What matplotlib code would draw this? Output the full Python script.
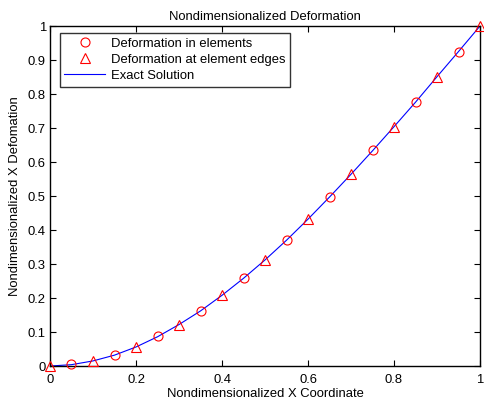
import matplotlib
matplotlib.use("Agg")
import matplotlib.pyplot as plt

plt.rcParams['font.family'] = ['Liberation Sans', 'DejaVu Sans']

# Deformation sampled at element centres
x_elem = [0.05, 0.15, 0.25, 0.35, 0.45, 0.55, 0.65, 0.75, 0.85, 0.95]
u_elem = [0.007, 0.032, 0.087, 0.163, 0.259, 0.371, 0.497, 0.634, 0.776, 0.924]

# Deformation at element edges (nodes)
x_edge = [0.0, 0.1, 0.2, 0.3, 0.4, 0.5, 0.6, 0.7, 0.8, 0.9, 1.0]
u_edge = [0.0, 0.015, 0.056, 0.122, 0.208, 0.312, 0.432, 0.564, 0.704, 0.851, 1.0]

# Exact solution
x_exact = [0.0, 0.05, 0.1, 0.15, 0.2, 0.25, 0.3, 0.35, 0.4, 0.45, 0.5,
           0.55, 0.6, 0.65, 0.7, 0.75, 0.8, 0.85, 0.9, 0.95, 1.0]
u_exact = [0.0, 0.004, 0.015, 0.032, 0.056, 0.086, 0.122, 0.162, 0.208, 0.258, 0.312,
           0.370, 0.432, 0.497, 0.564, 0.633, 0.704, 0.776, 0.851, 0.925, 1.0]

x_ticks = [0, 0.2, 0.4, 0.6, 0.8, 1]
x_ticklabels = ['0', '0.2', '0.4', '0.6', '0.8', '1']
y_ticks = [0, 0.1, 0.2, 0.3, 0.4, 0.5, 0.6, 0.7, 0.8, 0.9, 1]
y_ticklabels = ['0', '0.1', '0.2', '0.3', '0.4', '0.5', '0.6', '0.7', '0.8', '0.9', '1']

fs = 9.4

fig = plt.figure(figsize=(4.84, 4.04), dpi=100)
ax = fig.add_axes([0.1033, 0.094, 0.8885, 0.8416])

ax.plot(x_elem, u_elem, linestyle='none', marker='o', markersize=6.5,
        markerfacecolor='none', markeredgecolor='red', markeredgewidth=0.8,
        label='Deformation in elements', clip_on=False, zorder=3)
ax.plot(x_edge, u_edge, linestyle='none', marker='^', markersize=7,
        markerfacecolor='none', markeredgecolor='red', markeredgewidth=0.8,
        label='Deformation at element edges', clip_on=False, zorder=3)
ax.plot(x_exact, u_exact, color='blue', linewidth=0.8, label='Exact Solution',
        zorder=2)

ax.set_xlim(0, 1)
ax.set_ylim(0, 1)
ax.set_xticks(x_ticks)
ax.set_xticklabels(x_ticklabels)
ax.set_yticks(y_ticks)
ax.set_yticklabels(y_ticklabels)
ax.tick_params(direction='in', top=True, right=True, length=4, width=0.8,
               labelsize=fs)
ax.tick_params(axis='x', pad=6)
ax.tick_params(axis='y', pad=3)
for s in ax.spines.values():
    s.set_linewidth(1.0)

ax.set_title('Nondimensionalized Deformation', fontsize=fs, pad=4)
ax.set_xlabel('Nondimensionalized X Coordinate', fontsize=fs, labelpad=1)
ax.set_ylabel('Nondimensionalized X Defomation', fontsize=fs, labelpad=5)

leg = ax.legend(loc='upper left', fontsize=fs, frameon=True, fancybox=False,
                edgecolor='black', borderpad=0.35, handlelength=3.1,
                handletextpad=0.45, labelspacing=0.3, borderaxespad=0,
                bbox_to_anchor=(0.023, 0.979))
leg.get_frame().set_linewidth(1.0)

fig.savefig('out.png', dpi=100)
